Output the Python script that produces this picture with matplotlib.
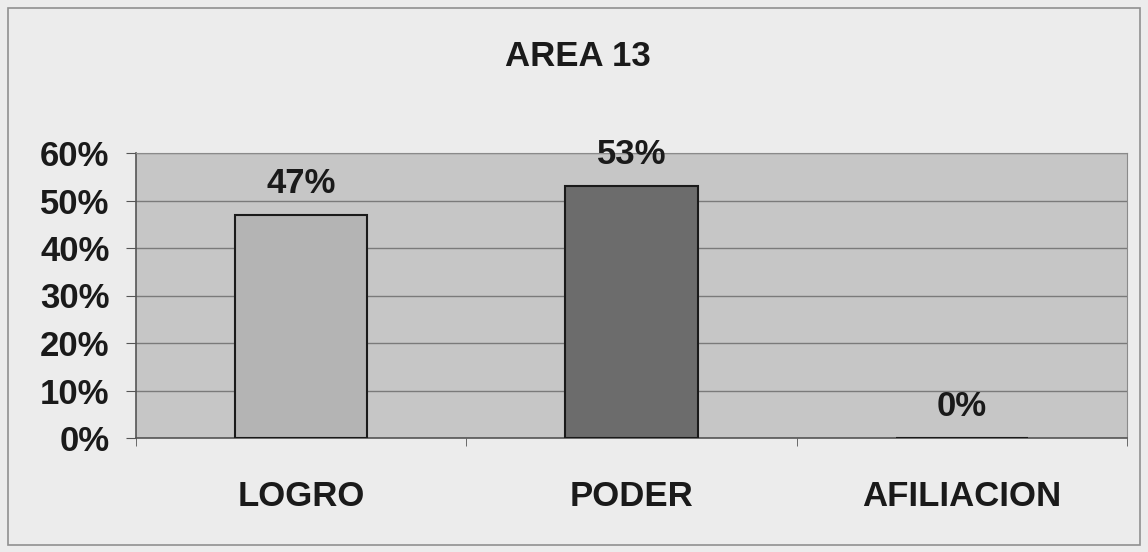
import numpy as np
import matplotlib.pyplot as plt
from matplotlib.patches import Rectangle
from matplotlib.ticker import MultipleLocator, PercentFormatter

# data
categories = ["LOGRO", "PODER", "AFILIACION"]
values = [47, 53, 0]
value_labels = ["47%", "53%", "0%"]
bar_colors = ["#b4b4b4", "#6c6c6c", "#b4b4b4"]

plt.rcParams['font.family'] = ['Liberation Sans', 'DejaVu Sans']

fig = plt.figure(figsize=(11.48, 5.52), dpi=100)
fig.patch.set_facecolor("#ececec")

# outer frame of the chart
fig.patches.append(Rectangle((8 / 1148, 7 / 552), 1132 / 1148, 537 / 552,
                             transform=fig.transFigure, fill=False,
                             edgecolor="#909090", linewidth=1.2))

ax = fig.add_axes([136 / 1148, 1 - 438 / 552, 991 / 1148, 285 / 552])
ax.set_facecolor("#c6c6c6")

x = np.arange(len(categories))
ax.bar(x, values, width=0.4, color=bar_colors, edgecolor="#1a1a1a", linewidth=1.5, zorder=3)

for xi, v, lab in zip(x, values, value_labels):
    ax.text(xi, v + 6.6, lab, ha="center", va="center", fontsize=25,
            fontweight="bold", color="#1a1a1a", zorder=4)

ax.set_xlim(-0.5, len(categories) - 0.5)
ax.set_ylim(0, 60)
ax.yaxis.set_major_locator(MultipleLocator(10))
ax.yaxis.set_major_formatter(PercentFormatter(decimals=0))
ax.grid(axis="y", color="#7a7a7a", linewidth=1.0, zorder=1)

ax.set_xticks(x)
ax.set_xticklabels(categories)
ax.set_xticks(np.arange(len(categories) + 1) - 0.5, minor=True)
ax.tick_params(axis="x", which="major", length=0, pad=30, labelsize=25)
ax.tick_params(axis="x", which="minor", length=6, color="#555555")
ax.tick_params(axis="y", length=7, color="#555555", labelsize=25, pad=12)
for lab in ax.get_xticklabels() + ax.get_yticklabels():
    lab.set_fontweight("bold")
    lab.set_color("#1a1a1a")

for side in ["top", "right"]:
    ax.spines[side].set_color("#8a8a8a")
for side in ["left", "bottom"]:
    ax.spines[side].set_color("#555555")
    ax.spines[side].set_linewidth(1.2)

fig.text(578 / 1148, 1 - 57 / 552, "AREA 13", ha="center", va="center",
         fontsize=25, fontweight="bold", color="#1a1a1a")

fig.savefig("out.png", dpi=100, facecolor=fig.get_facecolor())
